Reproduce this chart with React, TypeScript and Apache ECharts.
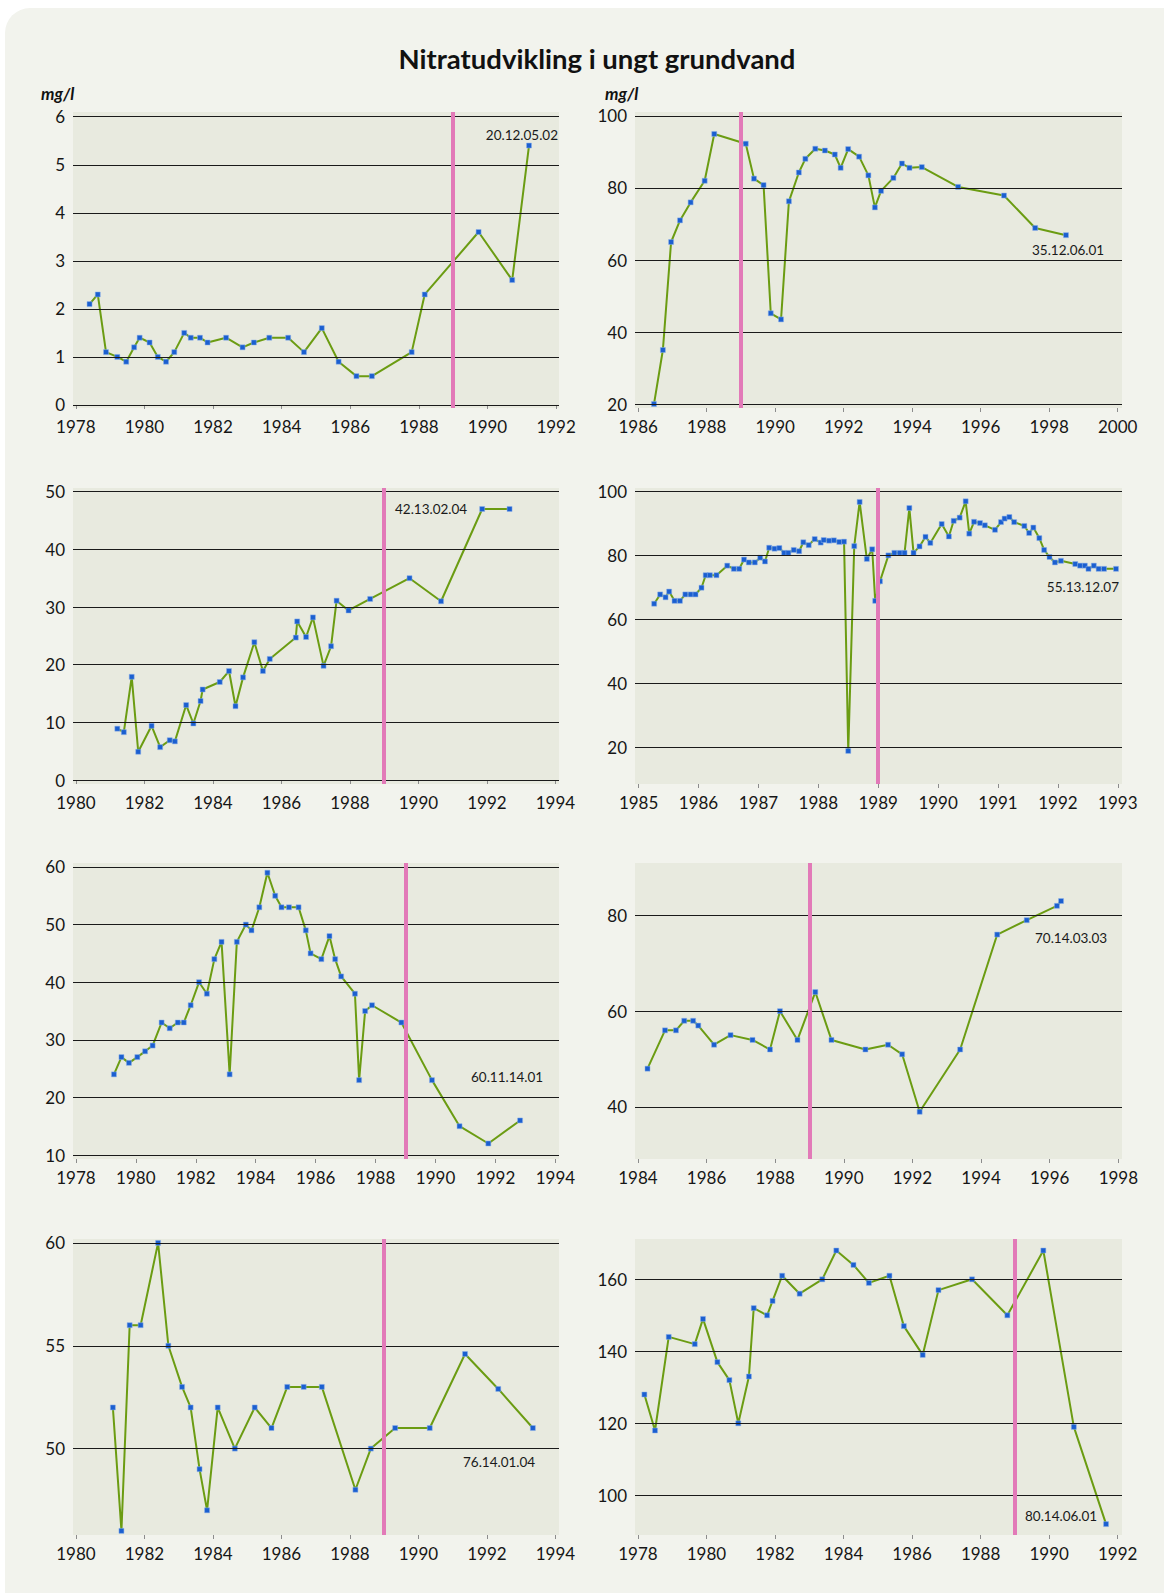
import React, { useEffect, useRef } from "react";
import * as echarts from "echarts";

const TITLE = "Nitratudvikling i ungt grundvand";
const UNIT = "mg/l";
const REFORM_YEAR = 1989;

const p1Years = [1978.4, 1978.64, 1978.88, 1979.21, 1979.47, 1979.7, 1979.86, 1980.15, 1980.39, 1980.63, 1980.87, 1981.16, 1981.35, 1981.62, 1981.84, 1982.38, 1982.86, 1983.19, 1983.64, 1984.19, 1984.65, 1985.17, 1985.66, 1986.18, 1986.63, 1987.79, 1988.17, 1989.74, 1990.72, 1991.21];
const p1Values = [2.1, 2.3, 1.1, 1.0, 0.9, 1.2, 1.4, 1.3, 1.0, 0.9, 1.1, 1.5, 1.4, 1.4, 1.3, 1.4, 1.2, 1.3, 1.4, 1.4, 1.1, 1.6, 0.9, 0.6, 0.6, 1.1, 2.3, 3.6, 2.6, 5.4];
const p1XTicks = [1978, 1980, 1982, 1984, 1986, 1988, 1990, 1992];
const p1YTicks = [0, 1, 2, 3, 4, 5, 6];

const p2Years = [1986.46, 1986.72, 1986.96, 1987.22, 1987.53, 1987.94, 1988.22, 1989.14, 1989.38, 1989.66, 1989.87, 1990.17, 1990.4, 1990.69, 1990.88, 1991.17, 1991.45, 1991.74, 1991.91, 1992.13, 1992.45, 1992.72, 1992.91, 1993.09, 1993.45, 1993.7, 1993.92, 1994.28, 1995.34, 1996.68, 1997.59, 1998.49];
const p2Values = [20, 35, 65, 71, 76, 82, 95, 92.3, 82.6, 80.8, 45.2, 43.5, 76.3, 84.3, 88.1, 90.9, 90.4, 89.3, 85.6, 90.8, 88.7, 83.5, 74.6, 79.2, 82.8, 86.8, 85.6, 85.8, 80.3, 77.9, 68.9, 66.9];
const p2XTicks = [1986, 1988, 1990, 1992, 1994, 1996, 1998, 2000];
const p2YTicks = [20, 40, 60, 80, 100];

const p3Years = [1981.21, 1981.4, 1981.63, 1981.82, 1982.21, 1982.46, 1982.74, 1982.89, 1983.22, 1983.43, 1983.64, 1983.7, 1984.2, 1984.47, 1984.66, 1984.88, 1985.21, 1985.46, 1985.66, 1986.42, 1986.46, 1986.72, 1986.92, 1987.23, 1987.45, 1987.61, 1987.96, 1988.59, 1989.74, 1990.66, 1991.86, 1992.66];
const p3Values = [8.9, 8.3, 17.9, 4.9, 9.4, 5.7, 6.9, 6.7, 13.0, 9.8, 13.7, 15.7, 17.0, 18.9, 12.8, 17.8, 23.9, 18.9, 21.0, 24.7, 27.5, 24.8, 28.2, 19.8, 23.2, 31.1, 29.4, 31.4, 35.0, 31.0, 47.0, 47.0];
const p3XTicks = [1980, 1982, 1984, 1986, 1988, 1990, 1992, 1994];
const p3YTicks = [0, 10, 20, 30, 40, 50];

const p4Years = [1985.26, 1985.36, 1985.45, 1985.51, 1985.6, 1985.69, 1985.78, 1985.87, 1985.95, 1986.05, 1986.12, 1986.19, 1986.3, 1986.48, 1986.59, 1986.68, 1986.76, 1986.84, 1986.94, 1987.03, 1987.11, 1987.18, 1987.27, 1987.35, 1987.43, 1987.5, 1987.59, 1987.68, 1987.75, 1987.84, 1987.94, 1988.04, 1988.09, 1988.18, 1988.26, 1988.35, 1988.43, 1988.5, 1988.6, 1988.69, 1988.81, 1988.9, 1988.95, 1989.03, 1989.17, 1989.27, 1989.36, 1989.44, 1989.52, 1989.59, 1989.69, 1989.79, 1989.87, 1990.06, 1990.18, 1990.26, 1990.36, 1990.46, 1990.52, 1990.6, 1990.7, 1990.78, 1990.95, 1991.05, 1991.11, 1991.19, 1991.27, 1991.44, 1991.52, 1991.59, 1991.69, 1991.77, 1991.86, 1991.95, 1992.05, 1992.29, 1992.37, 1992.45, 1992.51, 1992.6, 1992.68, 1992.77, 1992.97];
const p4Values = [65.0, 67.9, 67.0, 68.8, 65.9, 65.9, 67.9, 67.9, 67.9, 70.0, 73.9, 73.9, 73.9, 76.9, 75.9, 75.9, 78.8, 77.9, 77.9, 79.4, 78.2, 82.5, 82.2, 82.4, 80.9, 80.9, 81.8, 81.4, 84.2, 83.3, 85.2, 84.1, 84.9, 84.7, 84.8, 84.3, 84.4, 19.0, 83.0, 96.8, 79.0, 82.0, 65.9, 72.0, 80.1, 80.9, 80.9, 80.9, 94.9, 80.9, 82.9, 85.9, 84.0, 89.9, 86.0, 90.9, 91.9, 97.0, 86.9, 90.6, 90.2, 89.5, 88.1, 90.5, 91.6, 92.1, 90.5, 89.3, 87.1, 88.8, 85.5, 81.8, 79.6, 77.9, 78.4, 77.4, 76.9, 76.9, 75.9, 76.9, 75.9, 75.9, 75.9];
const p4XTicks = [1985, 1986, 1987, 1988, 1989, 1990, 1991, 1992, 1993];
const p4YTicks = [20, 40, 60, 80, 100];

const p5Years = [1979.27, 1979.52, 1979.77, 1980.05, 1980.31, 1980.56, 1980.86, 1981.13, 1981.4, 1981.6, 1981.83, 1982.11, 1982.37, 1982.62, 1982.86, 1983.13, 1983.37, 1983.67, 1983.86, 1984.12, 1984.39, 1984.65, 1984.86, 1985.11, 1985.43, 1985.67, 1985.83, 1986.19, 1986.46, 1986.65, 1986.85, 1987.31, 1987.45, 1987.65, 1987.88, 1988.86, 1989.88, 1990.8, 1991.76, 1992.82];
const p5Values = [24, 27, 26, 27, 28, 29, 33, 32, 33, 33, 36, 40, 38, 44, 47, 24, 47, 50, 49, 53, 59, 55, 53, 53, 53, 49, 45, 44, 48, 44, 41, 38, 23, 35, 36, 33, 23, 15, 12, 16];
const p5XTicks = [1978, 1980, 1982, 1984, 1986, 1988, 1990, 1992, 1994];
const p5YTicks = [10, 20, 30, 40, 50, 60];

const p6Years = [1984.28, 1984.79, 1985.11, 1985.35, 1985.61, 1985.76, 1986.22, 1986.7, 1987.34, 1987.85, 1988.14, 1988.65, 1989.17, 1989.64, 1990.63, 1991.29, 1991.7, 1992.21, 1993.39, 1994.47, 1995.33, 1996.21, 1996.33];
const p6Values = [48, 56, 56, 58, 58, 57, 53, 55, 54, 52, 60, 54, 64, 54, 52, 53, 51, 39, 52, 76, 79, 82, 83];
const p6XTicks = [1984, 1986, 1988, 1990, 1992, 1994, 1996, 1998];
const p6YTicks = [40, 60, 80];

const p7Years = [1981.08, 1981.33, 1981.57, 1981.89, 1982.4, 1982.7, 1983.1, 1983.35, 1983.61, 1983.83, 1984.14, 1984.64, 1985.22, 1985.71, 1986.17, 1986.65, 1987.18, 1988.16, 1988.61, 1989.32, 1990.33, 1991.36, 1992.33, 1993.34];
const p7Values = [52, 46, 56, 56, 60, 55, 53, 52, 49, 47, 52, 50, 52, 51, 53, 53, 53, 48, 50, 51, 51, 54.6, 52.9, 51];
const p7XTicks = [1980, 1982, 1984, 1986, 1988, 1990, 1992, 1994];
const p7YTicks = [50, 55, 60];

const p8Years = [1978.19, 1978.5, 1978.9, 1979.66, 1979.9, 1980.32, 1980.67, 1980.93, 1981.24, 1981.38, 1981.77, 1981.93, 1982.21, 1982.72, 1983.38, 1983.79, 1984.29, 1984.74, 1985.34, 1985.76, 1986.31, 1986.77, 1987.75, 1988.78, 1989.83, 1990.72, 1991.66];
const p8Values = [128, 118, 144, 142, 149, 137, 132, 120, 133, 152, 150, 154, 161, 156, 160, 168, 164, 159, 161, 147, 139, 157, 160, 150, 168, 119, 92];
const p8XTicks = [1978, 1980, 1982, 1984, 1986, 1988, 1990, 1992];
const p8YTicks = [100, 120, 140, 160];

const stationIds = ["20.12.05.02", "35.12.06.01", "42.13.02.04", "55.13.12.07", "60.11.14.01", "70.14.03.03", "76.14.01.04", "80.14.06.01"];

const FONT = 'Lato, "Open Sans", "DejaVu Sans", sans-serif';
const LINE_GREEN = "#6b9c12";
const MARK_BLUE = "#1b5fd0";
const PINK = "#e27ab8";
const PLOT_BG = "#e8eadf";
const PAGE_BG = "#f2f3ed";

const panels = [
  { years: p1Years, values: p1Values, xTicks: p1XTicks, yTicks: p1YTicks, xMin: 1977.918, xMax: 1992.084, yMin: -0.063, yMax: 6.098, left: 73, top: 112, width: 486, tag: { x: 558, y: 135, align: "right" } },
  { years: p2Years, values: p2Values, xTicks: p2XTicks, yTicks: p2YTicks, xMin: 1985.906, xMax: 2000.125, yMin: 18.9, yMax: 101.1, left: 635, top: 112, width: 487, tag: { x: 1032, y: 250, align: "left" } },
  { years: p3Years, values: p3Values, xTicks: p3XTicks, yTicks: p3YTicks, xMin: 1979.916, xMax: 1994.103, yMin: -0.69, yMax: 50.64, left: 73, top: 488, width: 486, tag: { x: 395, y: 509, align: "left" } },
  { years: p4Years, values: p4Values, xTicks: p4XTicks, yTicks: p4YTicks, xMin: 1984.94, xMax: 1993.07, yMin: 8.66, yMax: 101.16, left: 635, top: 488, width: 487, tag: { x: 1119, y: 587, align: "right" } },
  { years: p5Years, values: p5Values, xTicks: p5XTicks, yTicks: p5YTicks, xMin: 1977.904, xMax: 1994.118, yMin: 9.31, yMax: 60.69, left: 73, top: 863, width: 486, tag: { x: 471, y: 1077, align: "left" } },
  { years: p6Years, values: p6Values, xTicks: p6XTicks, yTicks: p6YTicks, xMin: 1983.916, xMax: 1998.106, yMin: 29.14, yMax: 90.94, left: 635, top: 863, width: 487, tag: { x: 1035, y: 938, align: "left" } },
  { years: p7Years, values: p7Values, xTicks: p7XTicks, yTicks: p7YTicks, xMin: 1979.916, xMax: 1994.103, yMin: 45.8, yMax: 60.19, left: 73, top: 1239, width: 486, tag: { x: 463, y: 1462, align: "left" } },
  { years: p8Years, values: p8Values, xTicks: p8XTicks, yTicks: p8YTicks, xMin: 1977.916, xMax: 1992.125, yMin: 88.97, yMax: 171.2, left: 635, top: 1239, width: 487, tag: { x: 1025, y: 1516, align: "left" } },
];

const PANEL_H = 296;

function buildOption() {
  const grid = panels.map((p) => ({
    left: p.left,
    top: p.top,
    width: p.width,
    height: PANEL_H,
    show: true,
    backgroundColor: PLOT_BG,
    borderWidth: 0,
  }));
  const xAxis = panels.map((p, i) => ({
    type: "value",
    gridIndex: i,
    min: p.xMin,
    max: p.xMax,
    axisLine: { show: false },
    splitLine: { show: false },
    axisTick: { show: true, length: 4, lineStyle: { color: "#8c8c8c", width: 1 }, customValues: p.xTicks },
    axisLabel: {
      customValues: p.xTicks,
      margin: 10,
      color: "#161616",
      fontFamily: FONT,
      fontSize: 17,
      formatter: (v: number) => String(Math.round(v)),
    },
  }));
  const yAxis = panels.map((p, i) => ({
    type: "value",
    gridIndex: i,
    min: p.yMin,
    max: p.yMax,
    axisLine: { show: false },
    axisTick: { show: false },
    splitLine: { show: false },
    axisLabel: {
      customValues: p.yTicks,
      margin: 8,
      color: "#161616",
      fontFamily: FONT,
      fontSize: 17,
      formatter: (v: number) => String(Math.round(v)),
    },
  }));
  const series: any[] = [];
  panels.forEach((p, i) => {
    series.push({
      type: "line",
      xAxisIndex: i,
      yAxisIndex: i,
      data: [],
      z: 1,
      silent: true,
      markLine: {
        silent: true,
        animation: false,
        symbol: ["none", "none"],
        label: { show: false },
        emphasis: { disabled: true },
        data: [
          ...p.yTicks.map((v) => ({ yAxis: v, lineStyle: { color: "#1a1a1a", width: 1.2, type: "solid" } })),
          { xAxis: REFORM_YEAR, lineStyle: { color: PINK, width: 4, type: "solid", opacity: 1 } },
        ],
      },
    });
    series.push({
      type: "line",
      xAxisIndex: i,
      yAxisIndex: i,
      z: 3,
      data: p.years.map((y, k) => [y, p.values[k]]),
      symbol: "rect",
      symbolSize: 5,
      showSymbol: true,
      lineStyle: { color: LINE_GREEN, width: 2 },
      itemStyle: { color: MARK_BLUE, borderColor: "#8fb2ea", borderWidth: 0.5 },
      emphasis: { disabled: true },
    });
  });
  const graphic: any[] = [
    {
      type: "text",
      x: 597,
      y: 58,
      style: { text: TITLE, font: `bold 27.5px ${FONT}`, fill: "#111", align: "center", verticalAlign: "middle" },
    },
    {
      type: "text",
      x: 41,
      y: 93,
      style: { text: UNIT, font: `italic bold 17px ${FONT}`, fill: "#111", align: "left", verticalAlign: "middle" },
    },
    {
      type: "text",
      x: 605,
      y: 93,
      style: { text: UNIT, font: `italic bold 17px ${FONT}`, fill: "#111", align: "left", verticalAlign: "middle" },
    },
    ...panels.map((p, i) => ({
      type: "text",
      x: p.tag.x,
      y: p.tag.y,
      z: 10,
      style: { text: stationIds[i], font: `13.5px ${FONT}`, fill: "#1a1a1a", align: p.tag.align, verticalAlign: "middle" },
    })),
  ];
  return {
    animation: false,
    backgroundColor: "transparent",
    grid,
    xAxis,
    yAxis,
    series,
    graphic,
  };
}

export default function App() {
  const ref = useRef<HTMLDivElement>(null);
  useEffect(() => {
    document.body.style.margin = "0";
    if (!ref.current) return;
    const chart = echarts.init(ref.current, undefined, { renderer: "svg" });
    chart.setOption(buildOption() as any);
    return () => chart.dispose();
  }, []);
  return (
    <div style={{ position: "relative", width: 1164, height: 1593, overflow: "hidden", background: "#ffffff" }}>
      <div
        style={{
          position: "absolute",
          left: 5,
          top: 8,
          width: 1220,
          height: 1660,
          borderRadius: 25,
          background: PAGE_BG,
        }}
      />
      <div ref={ref} style={{ position: "absolute", left: 0, top: 0, width: 1164, height: 1593 }} />
    </div>
  );
}
